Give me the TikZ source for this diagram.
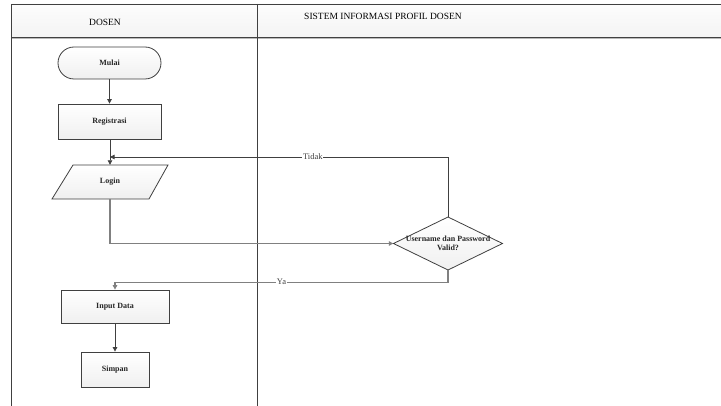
\documentclass[tikz,border=0pt]{standalone}
\usepackage{fontspec}
\setmainfont{Liberation Serif}
\usetikzlibrary{arrows.meta,shadows}
\definecolor{linegray}{HTML}{404040}
\definecolor{connlight}{HTML}{808080}

\begin{document}
\begin{tikzpicture}[x=1pt,y=-1pt,
  frameline/.style={draw=linegray, line width=0.8pt},
  headtext/.style={font=\fontsize{9.5}{11}\selectfont, inner sep=0pt},
  shapefill/.style={draw=linegray, line width=0.8pt, top color=white, bottom color=gray!12},
  shapeshadow/.style={drop shadow={shadow xshift=1.2pt, shadow yshift=-1.2pt, fill=gray!60, opacity=0.6}},
  shapetext/.style={font=\fontsize{8}{9.5}\selectfont\bfseries, align=center, inner sep=0pt, text=black!85},
  procbox/.style={shapefill, shapeshadow, shapetext, rectangle},
  termbox/.style={shapefill, shapetext, rectangle, rounded corners=16pt},
  conn/.style={draw=linegray, line width=0.8pt, -{Triangle[length=4.5pt,width=4.5pt]}},
  connsoft/.style={draw=connlight, line width=1.3pt, -{Triangle[length=4.5pt,width=4.5pt]}, color=connlight},
  flowlabel/.style={font=\fontsize{8.5}{10}\selectfont, fill=white, inner sep=0.8pt, text=linegray}
]
\useasboundingbox (0,0) rectangle (721,406);
\fill[white] (0,0) rectangle (721,406);

% swimlane header and frame
\shade[top color=gray!2, bottom color=gray!9] (11,4) rectangle (721,37);
\draw[gray!55, line width=1.4pt] (11,38.6) -- (721,38.6);
\draw[frameline] (11,406) -- (11,4) -- (721,4);
\draw[frameline] (11,37) -- (721,37);
\draw[frameline] (257,4) -- (257,406);
\node[headtext] (lanedosen) at (105,22) {DOSEN};
\node[headtext] (lanesistem) at (383,16) {SISTEM INFORMASI PROFIL DOSEN};

% flow shapes
\node[termbox, minimum width=103pt, minimum height=32pt] (mulai) at (109.5,63) {Mulai};
\node[procbox, minimum width=103pt, minimum height=35pt] (reg) at (109.5,121.5) {Registrasi};

\path[shapefill] (52,199) -- (149,199) -- (168,165) -- (73,165) -- cycle;
\node[shapetext, minimum width=96pt, minimum height=34pt] (login) at (110,182) {Login};

\path[shapefill] (393.5,243.5) -- (448,217) -- (502.5,243.5) -- (448,270) -- cycle;
\node[shapetext, minimum width=109pt, minimum height=53pt] (valid) at (448,243.5) {Username dan Password\\Valid?};

\node[procbox, minimum width=108pt, minimum height=33pt] (input) at (115,306.5) {Input Data};
\node[procbox, minimum width=68pt, minimum height=35pt] (simpan) at (115,369.5) {Simpan};

% connectors
\coordinate (tidakend) at (110,157);
\draw[conn] (mulai) -- (reg);
\draw[conn] (reg.south -| tidakend) -- (login.north);
\draw[connsoft] (login.south) |- (valid.west);
\draw[conn] (valid.north) |- node[flowlabel, pos=0.70] {Tidak} (tidakend);
\draw[connsoft] (valid.south) -- ++(0,12) -| node[flowlabel, pos=0.25] {Ya} (input.north);
\draw[conn] (input) -- (simpan);
\end{tikzpicture}
\end{document}
